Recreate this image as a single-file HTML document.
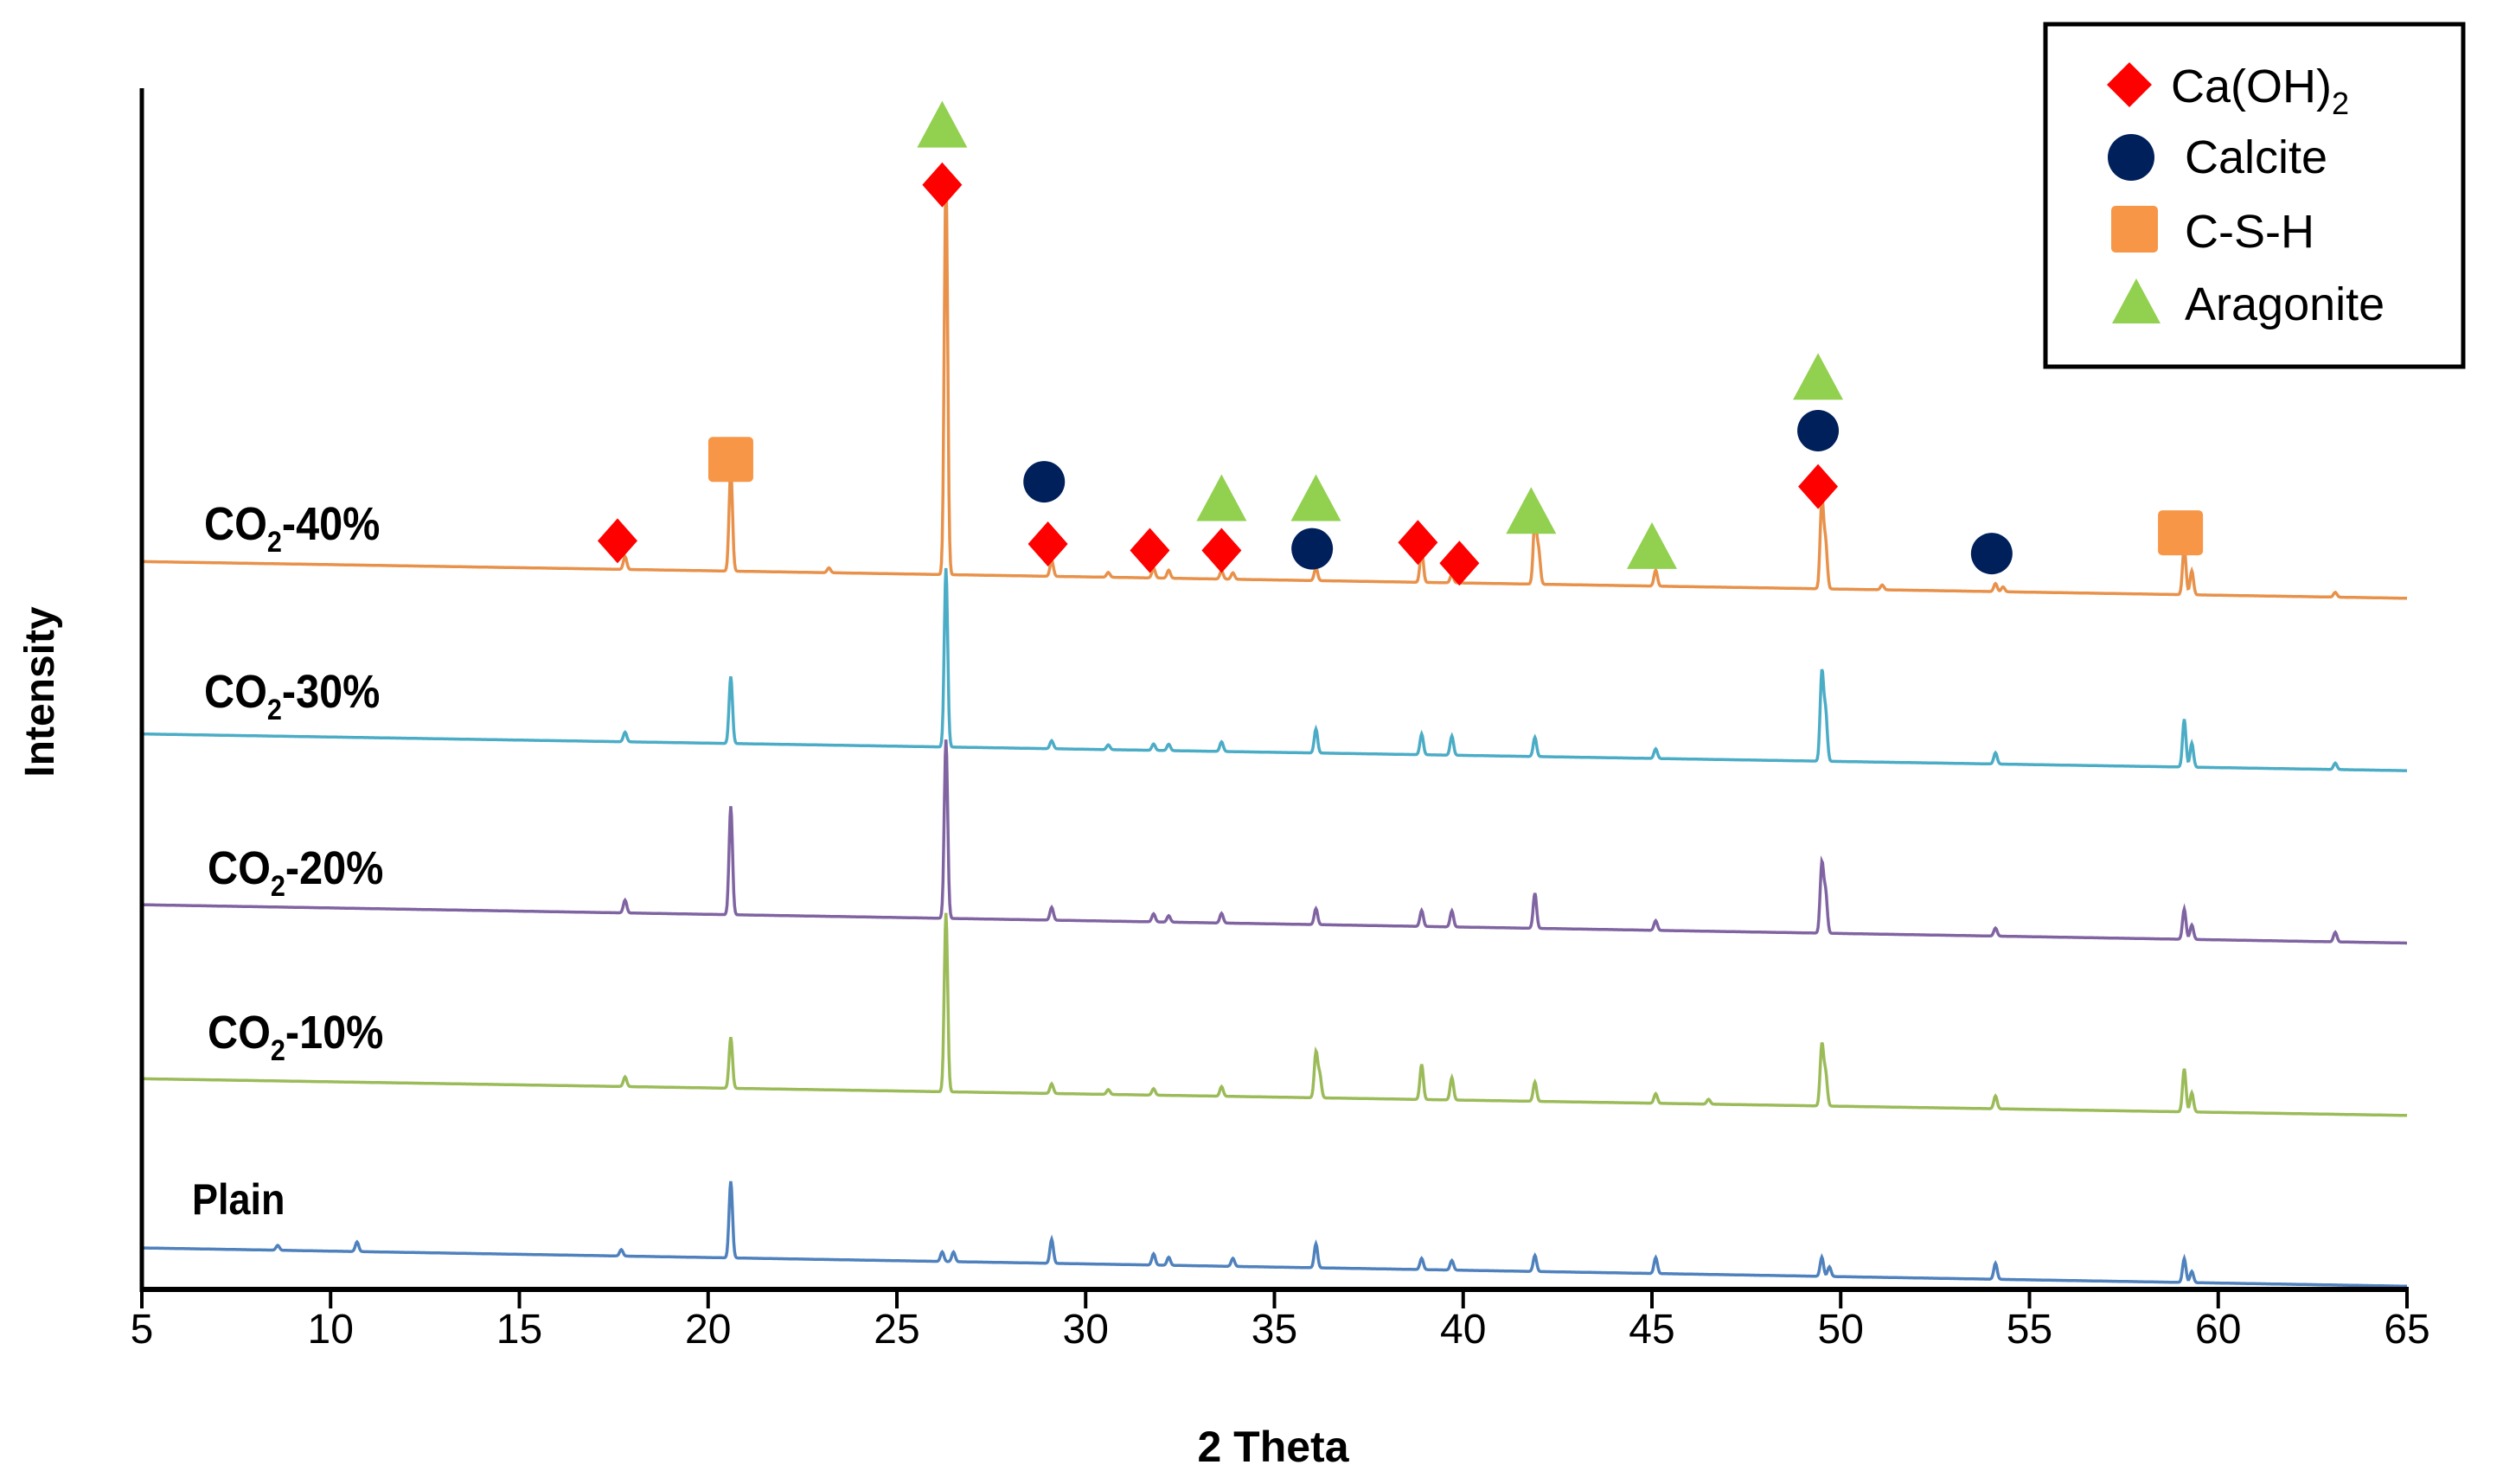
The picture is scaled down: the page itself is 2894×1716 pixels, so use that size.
<!DOCTYPE html>
<html><head><meta charset="utf-8"><style>
html,body{margin:0;padding:0;background:#fff;}
svg{display:block;font-family:"Liberation Sans",sans-serif;}
</style></head><body>
<svg id="chart" width="2894" height="1716" viewBox="0 0 2894 1716" xmlns="http://www.w3.org/2000/svg">
<g id="traces"></g>
<g id="markers"></g>
<g id="axes"></g>
<g font-weight="bold" font-size="54" fill="#000">
<text x="236" y="624" transform="translate(236 0) scale(0.9 1) translate(-236 0)">CO<tspan font-size="34" dy="14">2</tspan><tspan dy="-14">-40%</tspan></text>
<text x="236" y="818" transform="translate(236 0) scale(0.9 1) translate(-236 0)">CO<tspan font-size="34" dy="14">2</tspan><tspan dy="-14">-30%</tspan></text>
<text x="240" y="1022" transform="translate(240 0) scale(0.9 1) translate(-240 0)">CO<tspan font-size="34" dy="14">2</tspan><tspan dy="-14">-20%</tspan></text>
<text x="240" y="1212" transform="translate(240 0) scale(0.9 1) translate(-240 0)">CO<tspan font-size="34" dy="14">2</tspan><tspan dy="-14">-10%</tspan></text>
<text x="222" y="1404" font-size="50" transform="translate(222 0) scale(0.9 1) translate(-222 0)">Plain</text>
</g>
<text x="1472" y="1690" font-size="50" font-weight="bold" text-anchor="middle">2 Theta</text>
<text transform="translate(62 800) rotate(-90)" font-size="48" font-weight="bold" text-anchor="middle">Intensity</text>
<g>
<rect x="2365" y="28" width="483" height="396" fill="#fff" stroke="#000" stroke-width="5"/>
<g>
<polygon points="2462,72 2488,98 2462,124 2436,98" fill="#ff0000"/>
<text x="2510" y="118" font-size="54">Ca(OH)<tspan font-size="36" dy="14">2</tspan></text></g>
<g>
<circle cx="2464" cy="182" r="27" fill="#00205b"/>
<text x="2526" y="200" font-size="54">Calcite</text></g>
<g>
<rect x="2441" y="238" width="54" height="54" rx="5" fill="#f79646"/>
<text x="2526" y="286" font-size="54">C-S-H</text></g>
<g>
<polygon points="2470,322 2498,374 2442,374" fill="#92d050"/>
<text x="2526" y="370" font-size="54">Aragonite</text></g>
</g>
<script>
const xTicks = [5,10,15,20,25,30,35,40,45,50,55,60,65];
const seriesNames = ["Plain","CO2-10%","CO2-20%","CO2-30%","CO2-40%"];
const seriesColors = ["#4f81bd","#9bbb59","#8064a2","#4bacc6","#e8914a"];
const baseStart = [26,132,241,348,456];
const baseEnd = [2,109,217,325,433];
const peaksPlain = [[8.6,3],[10.7,6],[17.7,4],[20.6,48],[26.2,6],[26.5,6],[29.1,15],[31.8,7],[32.2,5],[33.9,5],[36.1,15],[38.9,7],[39.7,6],[41.9,10],[45.1,10],[49.5,12],[49.7,6],[54.1,10],[59.1,15],[59.3,7]];
const peaks10 = [[17.8,6],[20.6,32],[26.3,112],[29.1,6],[30.6,3],[31.8,4],[33.6,6],[36.1,28],[36.2,14],[38.9,22],[39.7,14],[41.9,12],[45.1,6],[46.5,3],[49.5,38],[49.6,20],[54.1,8],[59.1,27],[59.3,12]];
const peaks20 = [[17.8,8],[20.6,68],[26.3,112],[29.1,8],[31.8,5],[32.2,4],[33.6,6],[36.1,10],[38.9,10],[39.7,10],[41.9,22],[45.1,6],[49.5,43],[49.6,25],[54.1,5],[59.1,19],[59.3,9],[63.1,6]];
const peaks30 = [[17.8,6],[20.6,42],[26.3,112],[29.1,5],[30.6,3],[31.8,4],[32.2,4],[33.6,6],[36.1,15],[38.9,13],[39.7,12],[41.9,12],[45.1,6],[49.5,55],[49.6,30],[54.1,7],[59.1,30],[59.3,15],[63.1,4]];
const peaks40 = [[17.8,8],[20.6,64],[23.2,3],[26.3,250],[29.1,10],[30.6,3],[31.8,6],[32.2,5],[33.6,5],[33.9,4],[36.1,8],[38.9,20],[39.7,5],[41.9,40],[42.0,20],[45.1,10],[49.5,55],[49.6,28],[51.1,3],[54.1,5],[54.3,3],[59.1,30],[59.3,15],[63.1,3]];
const allPeaks = [peaksPlain,peaks10,peaks20,peaks30,peaks40];
const diamondX = [17.6,26.2,29.0,31.7,33.6,38.8,39.9,49.4];
const diamondY = [469,692,467,463,463,468,455,503];
const circleX = [28.9,36.0,49.4,54.0];
const circleY = [506,464,538,461];
const squareX = [20.6,59.0];
const squareY = [520,474];
const triangleX = [26.2,33.6,36.1,41.8,45.0,49.4];
const triangleY = [730,496,496,488,466,572];

const NS="http://www.w3.org/2000/svg";
const X0=164, X1=2783, Y0=1491, K=1.8457;
function xs(v){return X0+(v-5)*(X1-X0)/60;}
function ys(v){return Y0-v*K;}
function mk(tag,attrs,parent){const e=document.createElementNS(NS,tag);for(const k in attrs)e.setAttribute(k,attrs[k]);parent.appendChild(e);return e;}

const tr=document.getElementById('traces');
for(let s=0;s<5;s++){
  let d="";
  for(let x=5;x<=65.0001;x+=0.02){
    const t=(x-5)/60;
    let v=baseStart[s]+(baseEnd[s]-baseStart[s])*t;
    for(const p of allPeaks[s]){const dx=(x-p[0])/0.045;v+=p[1]*Math.exp(-dx*dx*0.5);}
    d+=(d?"L":"M")+xs(x).toFixed(1)+","+ys(v).toFixed(1);
  }
  const p=mk('path',{d:d,fill:"none",stroke:seriesColors[s],"stroke-width":"3.5"},tr);
  
  
}
const mg=document.getElementById('markers');
diamondX.forEach((x,i)=>{const cx=xs(x),cy=ys(diamondY[i]);
  const e=mk('polygon',{points:`${cx},${cy-26} ${cx+23},${cy} ${cx},${cy+26} ${cx-23},${cy}`,fill:"#ff0000"},mg);
  
  });
circleX.forEach((x,i)=>{
  const e=mk('circle',{cx:xs(x),cy:ys(circleY[i]),r:24,fill:"#00205b"},mg);
  
  });
squareX.forEach((x,i)=>{
  const e=mk('rect',{x:xs(x)-26,y:ys(squareY[i])-26,width:52,height:52,rx:5,fill:"#f79646"},mg);
  
  });
triangleX.forEach((x,i)=>{const cx=xs(x),cy=ys(triangleY[i]);
  const e=mk('polygon',{points:`${cx},${cy-27} ${cx+29},${cy+27} ${cx-29},${cy+27}`,fill:"#92d050"},mg);
  
  });
const ax=document.getElementById('axes');
const ya=mk('line',{x1:X0,y1:102,x2:X0,y2:Y0+3,stroke:"#000","stroke-width":5},ax);


const xa=mk('line',{x1:X0-2,y1:Y0,x2:X1+2,y2:Y0,stroke:"#000","stroke-width":6},ax);


xTicks.forEach(t=>{
  const l=mk('line',{x1:xs(t),y1:Y0,x2:xs(t),y2:Y0+22,stroke:"#000","stroke-width":4},ax);
  
  
  const tx=mk('text',{x:xs(t),y:Y0+62,"font-size":48,"text-anchor":"middle"},ax);
  tx.textContent=t;
  
  
});
</script>
</svg>
</body></html>
